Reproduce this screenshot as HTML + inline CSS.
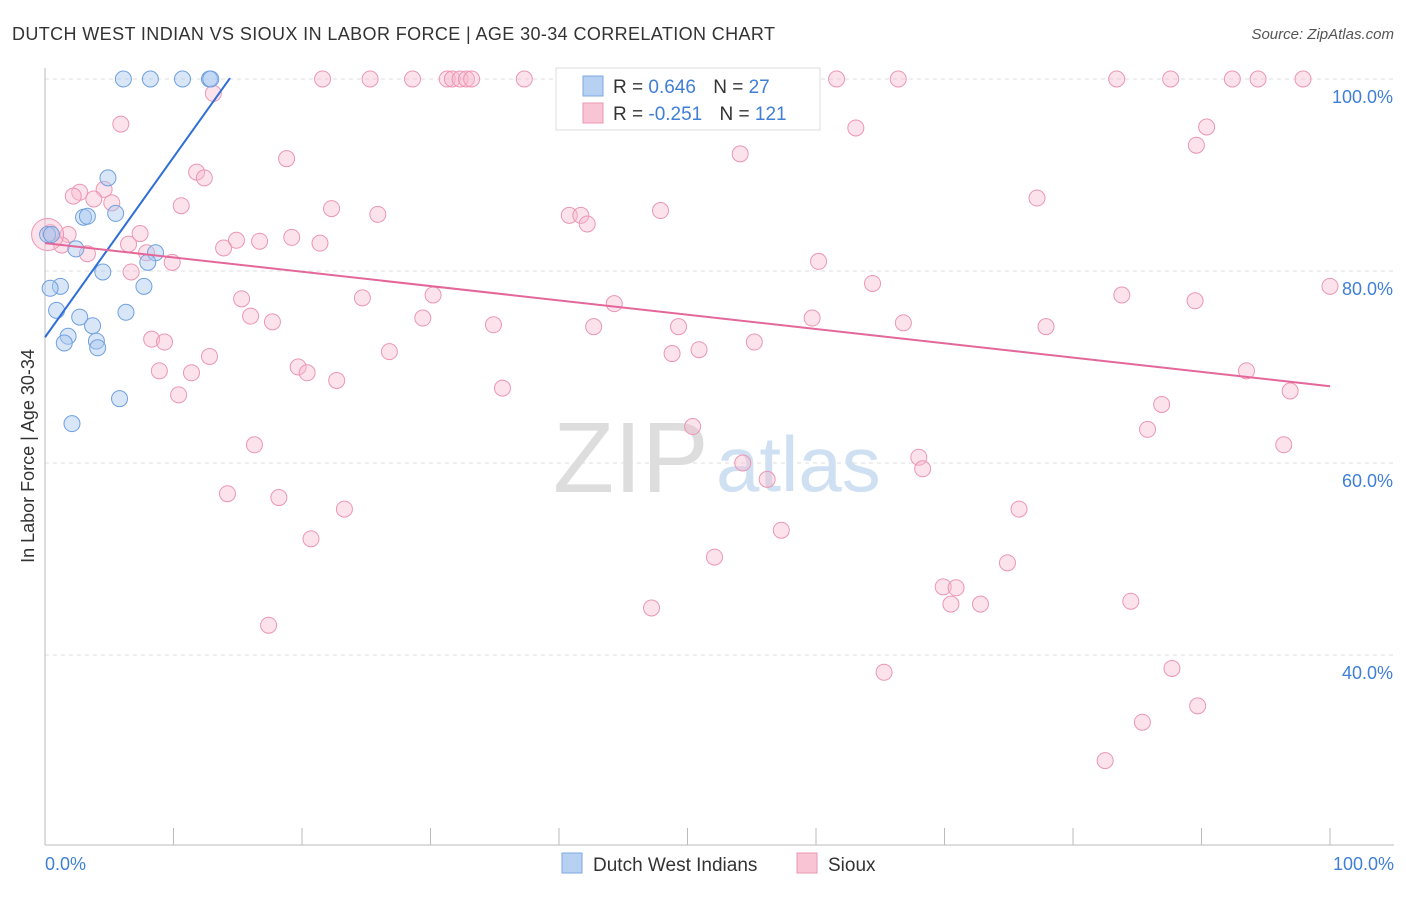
<!DOCTYPE html>
<html><head><meta charset="utf-8"><style>
body{margin:0;background:#fff;font-family:"Liberation Sans",sans-serif}
svg text{font-family:"Liberation Sans",sans-serif}
</style></head><body>
<svg id="chart" width="1406" height="892">
<text x="12" y="40" font-size="18" fill="#333" textLength="763">DUTCH WEST INDIAN VS SIOUX IN LABOR FORCE | AGE 30-34 CORRELATION CHART</text>
<text x="1394" y="39" font-size="15" fill="#555" font-style="italic" text-anchor="end">Source: ZipAtlas.com</text>
<g id="grid"></g>
<text x="553" y="492" font-size="100" fill="#ddd" font-family="Liberation Serif">ZIP</text>
<text x="716" y="491" font-size="78" fill="#cfe0f3">atlas</text>
<g id="marks"></g>
<text x="34" y="456" font-size="18" fill="#333" text-anchor="middle" transform="rotate(-90 34 456)">In Labor Force | Age 30-34</text>
<g>
<rect x="556" y="68" width="264" height="62" fill="#fff" stroke="#ddd"/>
<rect x="583" y="76" width="20" height="20" fill="#b7d1f3" stroke="#7ea7e0"/>
<text x="613" y="93" font-size="19" fill="#333">R = <tspan fill="#3f7fd6">0.646</tspan>  <tspan dx="12">N = </tspan><tspan fill="#3f7fd6">27</tspan></text>
<rect x="583" y="103" width="20" height="20" fill="#f9c4d4" stroke="#eb97b2"/>
<text x="613" y="120" font-size="19" fill="#333">R = <tspan fill="#3f7fd6">-0.251</tspan>  <tspan dx="12">N = </tspan><tspan fill="#3f7fd6">121</tspan></text>
</g>
<g>
<rect x="562" y="853" width="20" height="20" fill="#b7d1f3" stroke="#7ea7e0"/>
<text x="593" y="871" font-size="19" fill="#333">Dutch West Indians</text>
<rect x="797" y="853" width="20" height="20" fill="#f9c4d4" stroke="#eb97b2"/>
<text x="828" y="871" font-size="19" fill="#333">Sioux</text>
</g>
</svg>
<script>
const yTicks=[40,60,80,100];
const xTickLabels=["0.0%","100.0%"];
const blueX=[6.1,8.2,10.7,12.8,12.9,4.9,3.0,3.3,5.5,0.2,0.5,2.4,8.6,8.0,4.5,1.2,0.4,7.7,0.9,6.3,2.7,3.7,1.8,1.5,4.0,4.1,5.8,2.1];
const blueY=[100,100,100,100,100,89.7,85.6,85.7,86.0,83.8,83.8,82.3,81.9,80.9,79.9,78.4,78.2,78.4,75.9,75.7,75.2,74.3,73.2,72.5,72.7,72.0,66.7,64.1];
const pinkX=[21.6,25.3,28.6,31.3,31.7,32.3,32.8,33.2,37.3,46.5,55.6,61.6,66.4,83.4,87.6,92.4,94.4,97.9,13.1,63.1,90.4,5.9,54.1,89.6,18.8,11.8,12.4,4.6,2.7,2.2,3.8,5.2,10.6,22.3,25.9,40.8,41.7,42.2,47.9,77.2,0.4,1.8,7.4,14.9,16.7,19.2,21.4,6.5,13.9,1.3,3.3,7.9,9.9,60.2,6.7,64.4,100,83.8,89.5,15.3,24.7,30.2,44.3,29.4,59.7,66.8,16.0,34.9,42.7,49.3,77.9,17.7,8.3,9.3,55.2,12.8,26.8,48.8,50.9,8.9,11.4,19.7,20.4,22.7,10.4,35.6,93.5,96.9,86.9,50.4,85.8,16.3,96.4,54.3,68.0,68.3,56.2,14.2,18.2,23.3,75.8,20.7,57.3,52.1,74.9,69.9,70.9,70.5,72.8,47.2,84.5,17.4,65.3,87.7,85.4,89.7,82.5];
const pinkY=[100,100,100,100,100,100,100,100,100,100,100,100,100,100,100,100,100,100,98.5,94.9,95.0,95.3,92.2,93.1,91.7,90.3,89.7,88.5,88.2,87.8,87.5,87.1,86.8,86.5,85.9,85.8,85.8,84.9,86.3,87.6,84.0,83.8,83.9,83.2,83.1,83.5,82.9,82.8,82.4,82.7,81.8,81.9,80.9,81.0,79.9,78.7,78.4,77.5,76.9,77.1,77.2,77.5,76.6,75.1,75.1,74.6,75.3,74.4,74.2,74.2,74.2,74.7,72.9,72.6,72.6,71.1,71.6,71.4,71.8,69.6,69.4,70.0,69.4,68.6,67.1,67.8,69.6,67.5,66.1,63.8,63.5,61.9,61.9,60.0,60.6,59.4,58.3,56.8,56.4,55.2,55.2,52.1,53.0,50.2,49.6,47.1,47.0,45.3,45.3,44.9,45.6,43.1,38.2,38.6,33.0,34.7,29.0];
const blueTrend=[73.1,100.1]; // y at x=0 and x=14.4
const pinkTrend=[82.9,68.0];  // y at x=0 and x=100
const NS="http://www.w3.org/2000/svg";
const xS=v=>45+v*12.85, yS=v=>79+(100-v)*9.6;
function mk(t,a,p){const e=document.createElementNS(NS,t);for(const k in a)e.setAttribute(k,a[k]);p.appendChild(e);return e;}
const grid=document.getElementById('grid'), marks=document.getElementById('marks');
yTicks.forEach(t=>{
 const l=mk('line',{x1:45,x2:1394,y1:yS(t),y2:yS(t),stroke:'#ddd','stroke-dasharray':'4 4'},grid);
 
 
 const tx=mk('text',{x:1393,y:yS(t)+24,'font-size':18,fill:'#3f7fd6','text-anchor':'end'},grid);
 tx.textContent=t.toFixed(1)+'%';
 
 
});
const ax=mk('line',{x1:45,x2:45,y1:68,y2:845,stroke:'#bbb'},grid);


const bx=mk('line',{x1:45,x2:1394,y1:845,y2:845,stroke:'#bbb'},grid);


for(let i=0;i<=10;i++){
 const t=mk('line',{x1:xS(i*10),x2:xS(i*10),y1:828,y2:845,stroke:'#bbb'},grid);
 
 
}
[[0,'start',45],[100,'end',1394]].forEach((d,i)=>{
 const tx=mk('text',{x:d[2],y:870,'font-size':18,fill:'#3f7fd6','text-anchor':d[1]},grid);
 tx.textContent=xTickLabels[i];
 
 
});
pinkX.forEach((x,i)=>{
 const c=mk('circle',{cx:xS(x),cy:yS(pinkY[i]),r:8,fill:'#f7b8cc','fill-opacity':0.4,stroke:'#eb97b2','stroke-width':1},marks);
 
 
});
const big=mk('circle',{cx:xS(0.2),cy:yS(83.8),r:16,fill:'#f7b8cc','fill-opacity':0.4,stroke:'#eb97b2'},marks);


blueX.forEach((x,i)=>{
 const c=mk('circle',{cx:xS(x),cy:yS(blueY[i]),r:8,fill:'#a9c8f0','fill-opacity':0.45,stroke:'#6fa0e0','stroke-width':1},marks);
 
 
});
const bl=mk('line',{x1:xS(0),y1:yS(blueTrend[0]),x2:xS(14.4),y2:yS(blueTrend[1]),stroke:'#2f6fd6','stroke-width':2},marks);


const pl=mk('line',{x1:xS(0),y1:yS(pinkTrend[0]),x2:xS(100),y2:yS(pinkTrend[1]),stroke:'#e4679a','stroke-width':2},marks);


</script>
</body></html>
